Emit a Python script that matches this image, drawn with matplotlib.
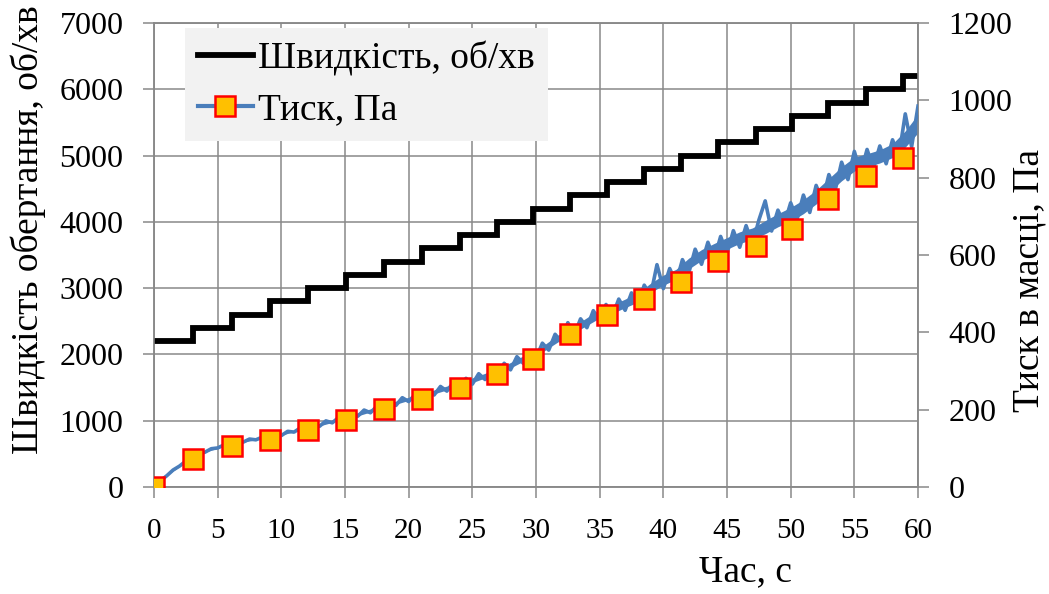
import numpy as np
import matplotlib
matplotlib.use("Agg")
import matplotlib.pyplot as plt
from matplotlib.lines import Line2D

# ---------------- data ----------------
step_times = [0, 3.05, 6.1, 9.1, 12.1, 15.1, 18.1, 21.05, 24.0, 26.9, 29.75,
              32.7, 35.6, 38.5, 41.4, 44.3, 47.25, 50.1, 52.95, 55.9, 58.8]
speed_levels = [2200, 2400, 2600, 2800, 3000, 3200, 3400, 3600, 3800, 4000, 4200,
                4400, 4600, 4800, 5000, 5200, 5400, 5600, 5800, 6000, 6200]
speed_end_time = 60

marker_pressure = [0, 72, 107, 122, 147, 173, 202, 228, 257, 292, 332,
                   395, 445, 485, 531, 585, 624, 666, 744, 804, 852]

# raw (noisy) pressure trace, read every 0.5 s
raw_time = np.arange(0, 60.01, 0.5)
raw_pressure = [0, 16, 29, 44, 54, 67, 75, 86, 90, 99,
                101, 109, 109, 117, 116, 124, 122, 129, 126, 135,
                133, 144, 142, 153, 150, 161, 157, 171, 166, 180,
                174, 190, 183, 199, 192, 209, 201, 220, 211, 231,
                221, 239, 229, 249, 238, 260, 248, 270, 256, 281,
                266, 293, 278, 304, 290, 320, 303, 337, 320, 352,
                333, 372, 354, 395, 375, 425, 393, 435, 412, 456,
                430, 472, 442, 486, 457, 502, 470, 522, 495, 575,
                513, 565, 528, 588, 554, 615, 576, 633, 590, 648,
                604, 663, 620, 676, 628, 690, 740, 662, 716, 680,
                735, 692, 755, 710, 780, 740, 808, 768, 840, 795,
                868, 812, 873, 824, 882, 836, 898, 856, 965, 880,
                985]

# core of the noisy band, read every 1 s
band_time = np.arange(0, 61, 1)
band_lower = [0, 29, 53, 74, 90, 100, 109, 116, 122, 126,
              134, 143, 151, 158, 167, 176, 184, 194, 203, 214,
              224, 232, 241, 251, 260, 270, 282, 294, 308, 325,
              338, 360, 381, 399, 418, 437, 449, 464, 478, 503,
              522, 537, 564, 586, 600, 615, 630, 640, 655, 673,
              687, 707, 732, 762, 792, 817, 828, 838, 852, 879,
              916]
band_upper = [0, 31, 57, 78, 94, 104, 113, 120, 126, 130,
              138, 147, 155, 164, 173, 182, 192, 202, 211, 222,
              232, 240, 251, 261, 270, 282, 294, 306, 322, 339,
              352, 376, 399, 417, 438, 459, 471, 486, 502, 527,
              548, 563, 592, 614, 630, 645, 660, 670, 689, 707,
              723, 743, 768, 798, 828, 853, 862, 872, 888, 921,
              964]

x_ticks = list(range(0, 61, 5))
left_ticks = list(range(0, 7001, 1000))
right_ticks = list(range(0, 1201, 200))

label_speed = "Швидкість, об/хв"
label_pressure = "Тиск, Па"
ylabel_left = "Швидкість обертання, об/хв"
ylabel_right = "Тиск в масці, Па"
xlabel = "Час, с"

# ---------------- style ----------------
plt.rcParams['font.family'] = ['Liberation Serif', 'DejaVu Serif']
grid_c = '#898989'
blue = '#4a7ebb'

fig = plt.figure(figsize=(10.49, 5.94), dpi=100)
ax = fig.add_axes([154/1049, 1-487/594, (918-154)/1049, (487-23)/594])
ax2 = ax.twinx()

st = list(step_times) + [speed_end_time]
sv = list(speed_levels) + [speed_levels[-1]]
ax.step(st, sv, where='post', color='black', lw=4.2, solid_joinstyle='miter', zorder=3)

ax.set_xlim(0, 60)
ax.set_ylim(0, 7000)
ax.set_xticks(x_ticks)
ax.set_yticks(left_ticks)
ax.grid(True, color=grid_c, lw=1.1)
ax.set_axisbelow(True)
for s in ax.spines.values():
    s.set_color(grid_c); s.set_linewidth(1.1)
ax.tick_params(axis='both', colors=grid_c, labelcolor='black', width=1.1)
ax.tick_params(axis='y', length=8, pad=14, labelsize=23)
ax.tick_params(axis='x', length=8, pad=14, labelsize=21)

ax2.fill_between(band_time, band_lower, band_upper, color=blue, lw=0, zorder=2)
ax2.plot(raw_time, raw_pressure, color=blue, lw=2.6, zorder=3)
ax2.plot(step_times, marker_pressure, ls='none', marker='s', ms=14,
         mfc='#ffc000', mec='#ff0000', mew=1.8, zorder=4)
ax2.set_ylim(0, 1200)
ax2.set_yticks(right_ticks)
for s in ax2.spines.values():
    s.set_color(grid_c); s.set_linewidth(1.1)
ax2.tick_params(axis='y', colors=grid_c, labelcolor='black', labelsize=23, width=1.1, length=8, pad=14)

ax.set_ylabel(ylabel_left, fontsize=27)
ax.yaxis.set_label_coords(-0.141, 0.554)
ax2.set_ylabel(ylabel_right, fontsize=27)
ax2.yaxis.set_label_coords(1.123, 0.446)
ax.set_xlabel(xlabel, fontsize=27)
ax.xaxis.set_label_coords(0.774, -0.145)

h1 = Line2D([], [], color='black', lw=4.2)
h2 = Line2D([], [], color=blue, lw=3.0, marker='s', ms=14, mfc='#ffc000', mec='#ff0000', mew=1.8)
leg = ax2.legend([h1, h2], [label_speed, label_pressure], loc='upper left',
                 bbox_to_anchor=(185/1049, 1-28/594), bbox_transform=fig.transFigure,
                 fontsize=27, frameon=True, fancybox=False, framealpha=1,
                 handlelength=1.45, handletextpad=0.15, borderpad=0.35, labelspacing=0.45,
                 borderaxespad=0)
leg.get_frame().set_facecolor('#f2f2f2')
leg.get_frame().set_edgecolor('none')
leg.set_zorder(10)

fig.savefig('out.png', dpi=100)
